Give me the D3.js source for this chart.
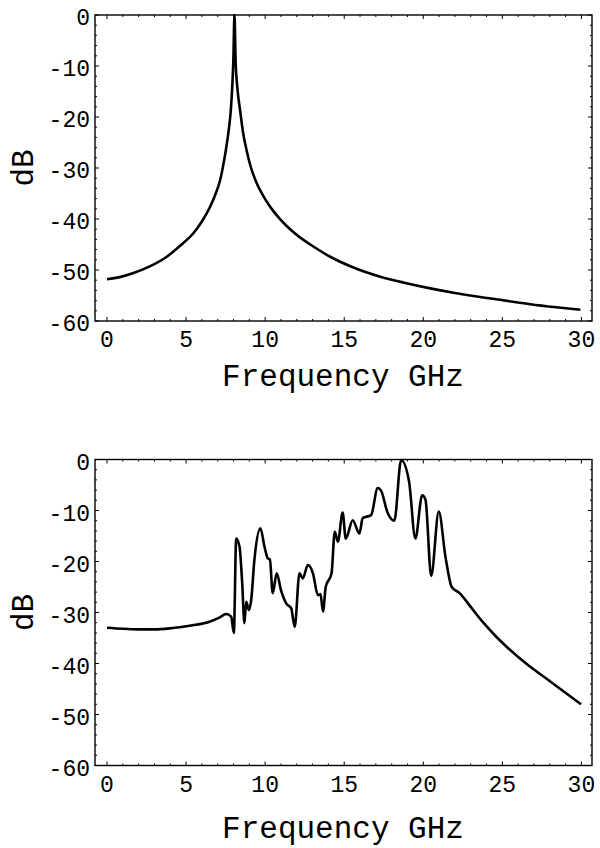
<!DOCTYPE html>
<html><head><meta charset="utf-8">
<script src="https://cdn.jsdelivr.net/npm/d3@7"></script>
<style>body{margin:0;background:#fff}svg{display:block}</style>
</head><body>
<script>
const topFreq=[0,0.8,1.67,2.7,3.78,4.6,5.46,6.0,6.52,6.85,7.15,7.4,7.58,7.72,7.83,7.92,7.99,8.06,8.13,8.25,8.42,8.6,8.84,9.1,9.47,10.0,10.53,11.0,11.58,12.2,13.0,14.11,15.5,17.28,18.8,20.44,22.0,23.6,25.2,26.77,28.4,29.94];
const topDb=[-51.8,-51.4,-50.6,-49.3,-47.4,-45.3,-42.8,-40.5,-37.6,-35.2,-32.4,-28.6,-25.2,-22.0,-18.6,-14.0,-8.8,0,-8.8,-14.5,-18.8,-23.0,-26.7,-29.9,-33.0,-36.1,-38.5,-40.2,-42.0,-43.6,-45.3,-47.4,-49.4,-51.3,-52.5,-53.6,-54.5,-55.3,-56.0,-56.7,-57.3,-57.8];
const botFreq=[0,1,2,3,4,5.21,6.48,7.1,7.53,7.85,8.02,8.17,8.38,8.55,8.69,8.8,8.97,9.12,9.32,9.7,9.96,10.17,10.3,10.48,10.73,11.0,11.33,11.65,11.87,12.17,12.38,12.7,13.02,13.34,13.5,13.66,13.83,14.2,14.4,14.6,14.9,15.1,15.54,15.96,16.17,16.7,17.12,17.33,17.75,18.17,18.6,19.1,19.5,19.93,20.14,20.5,20.98,21.4,21.8,22.3,23.0,23.8,24.6,25.3,26.7,27.8,28.8,29.98];
const botDb=[-33.0,-33.2,-33.3,-33.3,-33.1,-32.6,-31.8,-31.0,-30.3,-30.8,-34.0,-15.5,-17.1,-24.3,-32.1,-27.9,-29.5,-27.5,-19.7,-13.5,-17.1,-19.4,-19.6,-26.2,-22.3,-25.6,-28.2,-29.2,-32.8,-22.3,-23.3,-20.7,-22.3,-26.6,-26.4,-29.8,-25.0,-22.3,-14.2,-16.1,-10.4,-15.5,-11.9,-14.5,-11.5,-10.9,-5.6,-6.1,-10.5,-12.0,-0.1,-4.3,-15.5,-7.0,-7.9,-22.8,-10.2,-19.0,-25.0,-26.2,-28.9,-32.0,-34.7,-36.8,-40.5,-43.0,-45.3,-48.0];
const xTicks=[0,5,10,15,20,25,30];
const yTicks=[0,-10,-20,-30,-40,-50,-60];
const xLabel="Frequency GHz";
const yLabel="dB";

const W=600,H=848;
const svg=d3.select("body").append("svg").attr("width",W).attr("height",H);
const FONT="'Liberation Mono','Courier New',monospace";

function panel(top,bottom,fx,fy,titleY){
  const x=d3.scaleLinear().domain([-0.76,30.67]).range([95,592]);
  const y=d3.scaleLinear().domain([-60,0]).range([bottom,top]);
  const g=svg.append("g");
  const xMinor=d3.range(0,31,1).filter(v=>v%5!==0);
  const yMinor=d3.range(-60,1,2).filter(v=>v%10!==0);
  const tk=g.append("g").attr("stroke","#000").attr("stroke-width",1);
  xTicks.forEach(v=>{
    tk.append("line").attr("x1",x(v)).attr("x2",x(v)).attr("y1",bottom).attr("y2",bottom-4);
    tk.append("line").attr("x1",x(v)).attr("x2",x(v)).attr("y1",top).attr("y2",top+4);
  });
  xMinor.forEach(v=>{
    tk.append("line").attr("x1",x(v)).attr("x2",x(v)).attr("y1",bottom).attr("y2",bottom-2);
    tk.append("line").attr("x1",x(v)).attr("x2",x(v)).attr("y1",top).attr("y2",top+2);
  });
  yTicks.forEach(v=>{
    tk.append("line").attr("x1",95).attr("x2",99).attr("y1",y(v)).attr("y2",y(v));
    tk.append("line").attr("x1",592).attr("x2",588).attr("y1",y(v)).attr("y2",y(v));
  });
  yMinor.forEach(v=>{
    tk.append("line").attr("x1",95).attr("x2",97).attr("y1",y(v)).attr("y2",y(v));
    tk.append("line").attr("x1",592).attr("x2",590).attr("y1",y(v)).attr("y2",y(v));
  });
  g.append("rect").attr("x",95).attr("y",top).attr("width",592-95).attr("height",bottom-top)
    .attr("fill","none").attr("stroke","#000").attr("stroke-width",1.4);
  g.selectAll(".xl").data(xTicks).enter().append("text")
    .attr("x",d=>x(d)).attr("y",bottom+26).attr("text-anchor","middle")
    .attr("font-family",FONT).attr("font-size",23).text(d=>d);
  g.selectAll(".yl").data(yTicks).enter().append("text")
    .attr("x",90).attr("y",d=>y(d)+10).attr("text-anchor","end")
    .attr("font-family",FONT).attr("font-size",23).text(d=>d===0?"0":"-"+Math.abs(d));
  g.append("text").attr("x",343).attr("y",titleY).attr("text-anchor","middle")
    .attr("font-family",FONT).attr("font-size",31).text(xLabel);
  g.append("text").attr("transform",`translate(33,${(top+bottom)/2}) rotate(-90)`)
    .attr("text-anchor","middle").attr("font-family",FONT).attr("font-size",31).text(yLabel);
  const line=d3.line().x((d,i)=>x(fx[i])).y((d,i)=>y(fy[i])).curve(d3.curveMonotoneX);
  g.append("path").datum(fx).attr("d",line).attr("fill","none").attr("stroke","#000")
    .attr("stroke-width",2.6).attr("stroke-linejoin","round");
}
panel(15,321,topFreq,topDb,386);
panel(459.5,765.5,botFreq,botDb,838);
</script>
</body></html>
